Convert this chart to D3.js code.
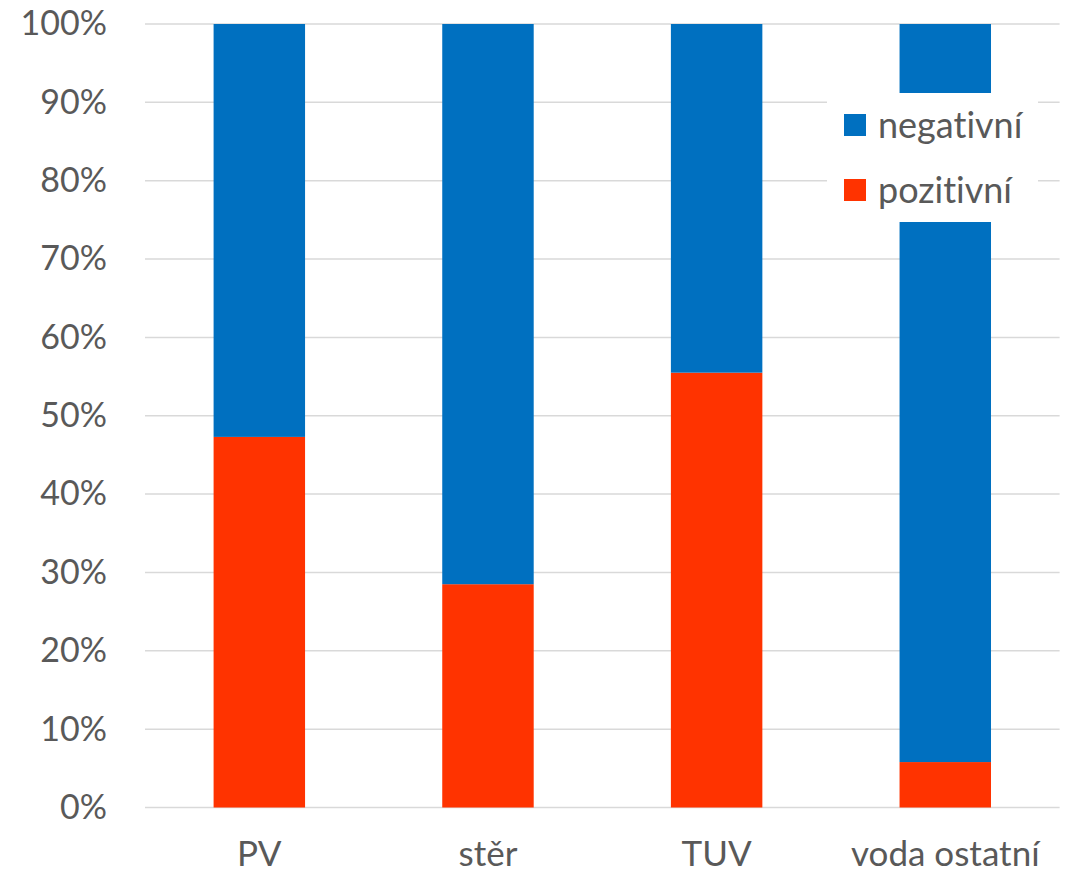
<!DOCTYPE html>
<html><head><meta charset="utf-8">
<script src="https://cdn.jsdelivr.net/npm/d3@7"></script>
<style>body{margin:0;background:#fff} text{font-variant-ligatures:none;font-feature-settings:"liga" 0}</style>
</head><body>
<svg id="chart" width="1066" height="876"></svg>
<script>
const categories = ["PV", "stěr", "TUV", "voda ostatní"];
const seriesNames = ["pozitivní", "negativní"];
const positive = [47.3, 28.5, 55.5, 5.8];
const negative = [52.7, 71.5, 44.5, 94.2];
const tickValues = [0, 10, 20, 30, 40, 50, 60, 70, 80, 90, 100];
const colors = {"pozitivní": "#FF3300", "negativní": "#0070C0"};
const legendOrder = ["negativní", "pozitivní"];

const svg = d3.select("#chart");
const m = {left: 145, right: 1066 - 1059.6, top: 24, bottom: 876 - 807.5};
const W = 1066, H = 876;
const x = d3.scaleBand().domain(categories).range([m.left, W - m.right]).paddingInner(0.6).paddingOuter(0.3);
const y = d3.scaleLinear().domain([0, 100]).range([H - m.bottom, m.top]);
const font = "Lato, 'Open Sans', sans-serif";

// gridlines
svg.append("g").selectAll("line").data(tickValues).join("line")
  .attr("x1", m.left).attr("x2", W - m.right)
  .attr("y1", d => y(d)).attr("y2", d => y(d))
  .attr("stroke", "#d9d9d9").attr("stroke-width", 1.5);

// y axis labels
const yAxis = d3.axisLeft(y).tickValues(tickValues).tickFormat(d => d + "%").tickSize(0).tickPadding(38);
const ya = svg.append("g").attr("transform", `translate(${m.left},0)`).call(yAxis);
ya.select(".domain").remove();
ya.selectAll("text").attr("font-family", font).attr("font-size", 34).attr("fill", "#595959");

// stacked bars
const rows = categories.map((c, i) => ({cat: c, "pozitivní": positive[i], "negativní": negative[i]}));
const stack = d3.stack().keys(seriesNames)(rows);
svg.append("g").selectAll("g").data(stack).join("g")
  .attr("fill", d => colors[d.key])
  .selectAll("rect").data(d => d).join("rect")
  .attr("x", d => x(d.data.cat)).attr("width", x.bandwidth())
  .attr("y", d => y(d[1])).attr("height", d => y(d[0]) - y(d[1]));

// x axis labels
const xAxis = d3.axisBottom(x).tickSize(0).tickPadding(34);
const xa = svg.append("g").attr("transform", `translate(0,${y(0)})`).call(xAxis);
xa.select(".domain").remove();
xa.selectAll("text").attr("font-family", font).attr("font-size", 35).attr("fill", "#595959");

// legend
const lg = svg.append("g");
lg.append("rect").attr("x", 827).attr("y", 93).attr("width", 211).attr("height", 129).attr("fill", "#fff");
const items = lg.selectAll("g.item").data(legendOrder).join("g").attr("class", "item")
  .attr("transform", (d, i) => `translate(844,${114 + i * 65})`);
items.append("rect").attr("width", 22).attr("height", 22).attr("fill", d => colors[d]);
items.append("text").attr("x", 34).attr("y", 11).attr("dy", "0.35em")
  .attr("font-family", font).attr("font-size", 36).attr("fill", "#595959").text(d => d);
</script>
</body></html>
